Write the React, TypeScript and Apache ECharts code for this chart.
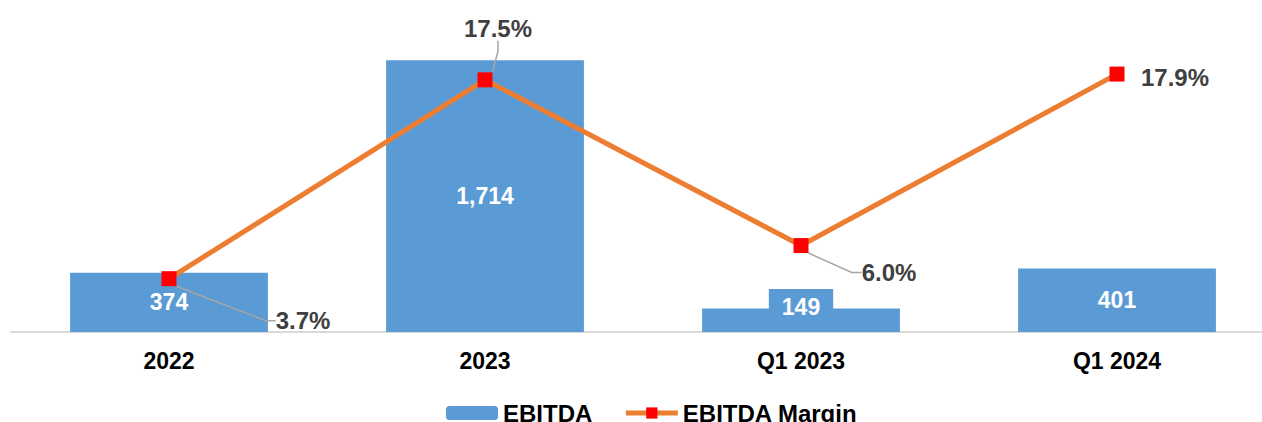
import React, { useEffect, useRef } from "react";
import * as echarts from "echarts";

const categories = ["2022", "2023", "Q1 2023", "Q1 2024"];
const ebitda = [374, 1714, 149, 401];
const ebitdaMargin = [3.7, 17.5, 6.0, 17.9];
// label offsets (px) of the percentage labels from their points
const marginLabelOffsets: [number, number][] = [
  [134, 42],
  [13, -51],
  [88, 27],
  [58, 3],
];
const marginLeaderShown = [true, true, true, false];

const FONT = 'Arial, "Liberation Sans", sans-serif';

export default function App() {
  const ref = useRef<HTMLDivElement>(null);
  useEffect(() => {
    if (!ref.current) return;
    const chart = echarts.init(ref.current, undefined, { renderer: "svg" });
    const barData = ebitda.map((v) =>
      v === 149
        ? {
            value: v,
            label: {
              position: "insideBottom",
              distance: 0,
              backgroundColor: "#5B9BD5",
              padding: [6, 13, 14, 13],
            },
          }
        : { value: v }
    );
    const lineData = ebitdaMargin.map((v, i) => ({
      value: v,
      labelLine: { show: marginLeaderShown[i] },
    }));
    chart.setOption({
      animation: false,
      backgroundColor: "#ffffff",
      textStyle: { fontFamily: FONT },
      grid: { left: 11, right: 0, top: 15, bottom: 90, containLabel: false },
      legend: {
        left: 441,
        top: 396,
        itemWidth: 52,
        itemHeight: 14,
        itemGap: 31,
        lineStyle: { width: 5 },
        textStyle: { fontFamily: FONT, fontSize: 24, fontWeight: "bold", color: "#000000" },
        data: ["EBITDA", "EBITDA Margin"],
      },
      xAxis: {
        type: "category",
        data: categories,
        axisLine: { show: true, lineStyle: { color: "#D9D9D9", width: 2 } },
        axisTick: { show: false },
        axisLabel: {
          margin: 17,
          fontFamily: FONT,
          fontSize: 23,
          fontWeight: "bold",
          color: "#000000",
        },
      },
      yAxis: [
        { type: "value", min: 0, max: 2000, show: false, splitLine: { show: false } },
        { type: "value", min: 0, max: 22, show: false, splitLine: { show: false } },
      ],
      series: [
        {
          name: "EBITDA",
          type: "bar",
          yAxisIndex: 0,
          barWidth: "62.6%",
          itemStyle: { color: "#5B9BD5" },
          label: {
            show: true,
            position: "inside",
            color: "#ffffff",
            fontFamily: FONT,
            fontSize: 23,
            fontWeight: "bold",
            formatter: (p: any) => Number(p.value).toLocaleString("en-US"),
          },
          data: barData,
        },
        {
          name: "EBITDA Margin",
          type: "line",
          yAxisIndex: 1,
          symbol: "rect",
          symbolSize: 15,
          lineStyle: { color: "#ED7D31", width: 5 },
          itemStyle: { color: "#FF0000" },
          label: {
            show: true,
            position: "inside",
            color: "#404040",
            fontFamily: FONT,
            fontSize: 24,
            fontWeight: "bold",
            padding: [0, 7],
            formatter: (p: any) => Number(p.value).toFixed(1) + "%",
          },
          labelLine: {
            show: true,
            length2: 10,
            lineStyle: { color: "#A6A6A6", width: 1.5 },
          },
          labelLayout: (params: any) => {
            const o = marginLabelOffsets[params.dataIndex];
            return { dx: o[0], dy: o[1] };
          },
          data: lineData,
          z: 5,
        },
      ],
    });
    return () => chart.dispose();
  }, []);
  return (
    <div
      style={{
        position: "fixed",
        left: 0,
        top: 0,
        width: 1262,
        height: 422,
        overflow: "hidden",
        background: "#ffffff",
      }}
    >
      <div ref={ref} style={{ width: 1275, height: 422 }} />
    </div>
  );
}
